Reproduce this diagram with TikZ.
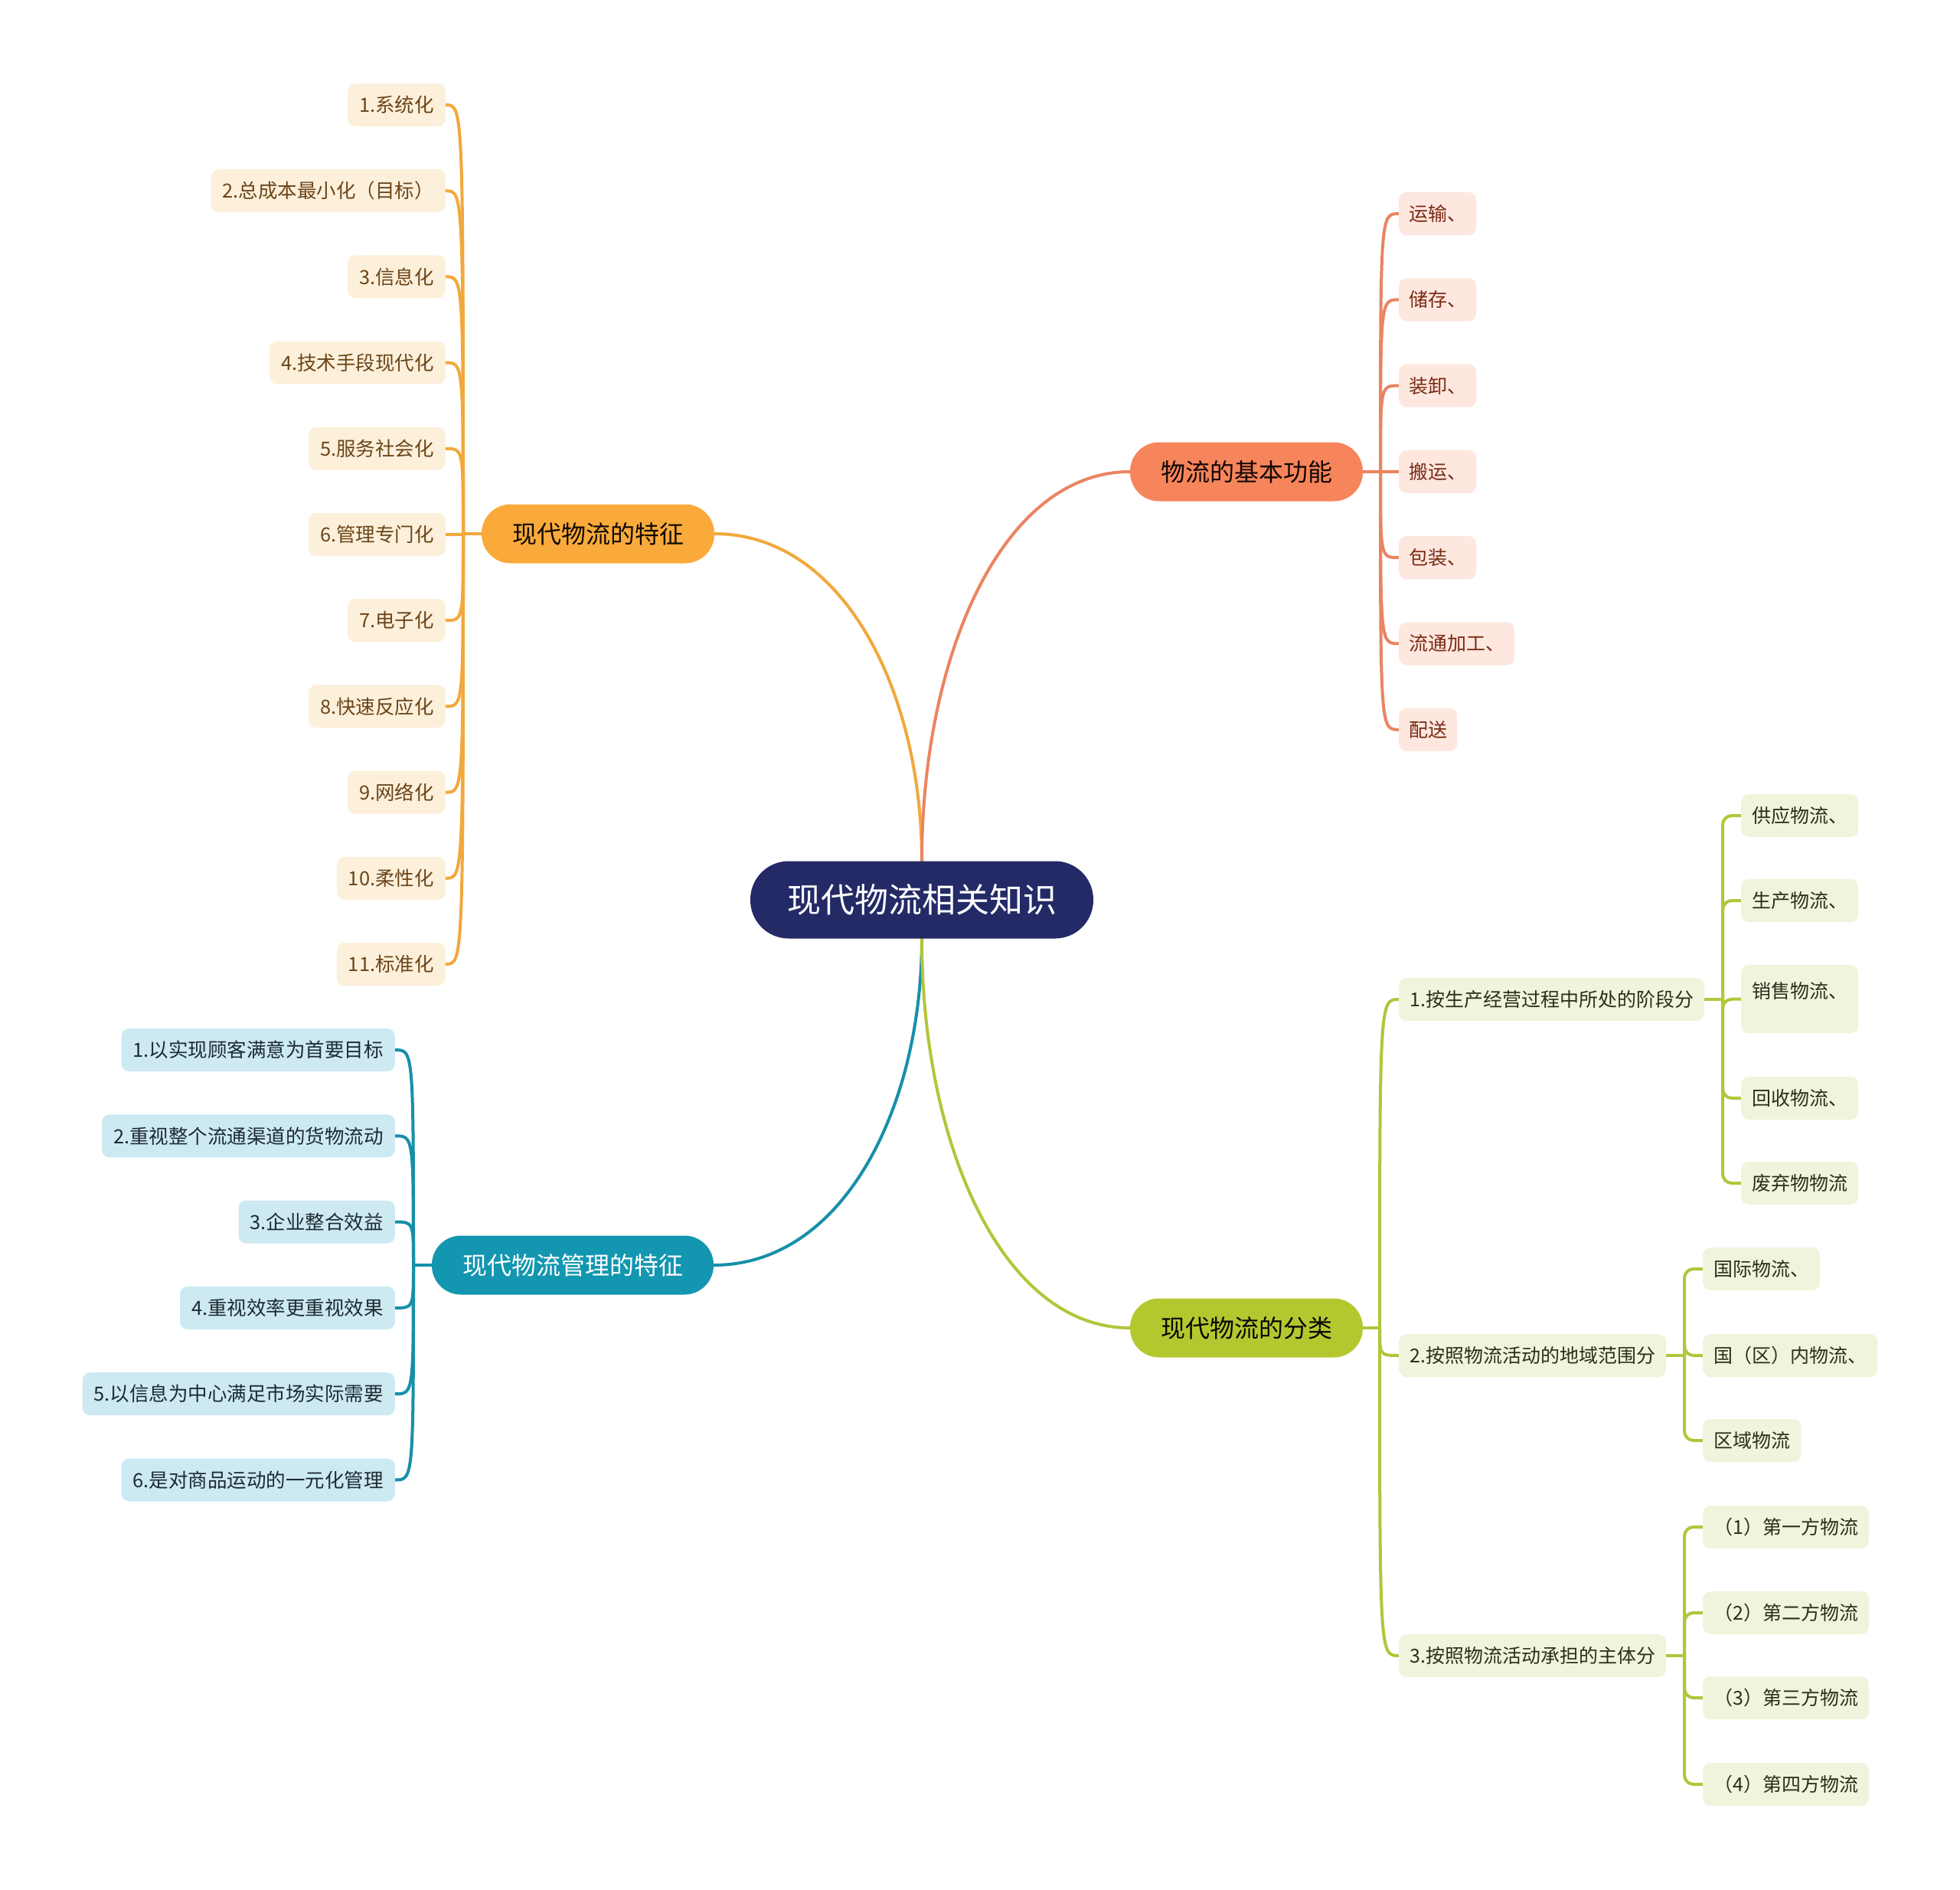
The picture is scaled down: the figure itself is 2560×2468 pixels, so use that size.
\documentclass[tikz,border=0pt]{standalone}
\usepackage{fontspec}
\setmainfont{Noto Sans CJK SC}
\usetikzlibrary{backgrounds}
\definecolor{cRoot}{HTML}{232A66}
\definecolor{cOr}{HTML}{F9AA3B}
\definecolor{cOrLine}{HTML}{F2A83C}
\definecolor{cOrLeaf}{HTML}{FDF0DB}
\definecolor{cOrText}{HTML}{6B4519}
\definecolor{cCo}{HTML}{F7855B}
\definecolor{cCoLine}{HTML}{EB8461}
\definecolor{cCoLeaf}{HTML}{FDE7DF}
\definecolor{cCoText}{HTML}{7A2B13}
\definecolor{cBl}{HTML}{1396B0}
\definecolor{cBlLine}{HTML}{1690A9}
\definecolor{cBlLeaf}{HTML}{CDEAF2}
\definecolor{cBlText}{HTML}{1D2B33}
\definecolor{cGr}{HTML}{B5C72F}
\definecolor{cGrLine}{HTML}{B3C53A}
\definecolor{cGrLeaf}{HTML}{F1F4DC}
\definecolor{cGrText}{HTML}{2B2E1A}
\begin{document}
\begin{tikzpicture}[x=1pt,y=-1pt,
 rootnode/.style={rectangle,rounded corners=50pt,fill=cRoot,text=white,font=\fontsize{44}{52}\selectfont,minimum width=448pt,minimum height=101pt,inner sep=0pt},
 branch/.style={rectangle,rounded corners=38pt,minimum height=77pt,inner xsep=40pt,inner ysep=0pt,font=\fontsize{32}{38}\selectfont},
 leaf/.style={rectangle,rounded corners=10pt,minimum height=56pt,inner xsep=14pt,inner ysep=0pt},
 oleaf/.style={leaf,inner xsep=15pt,fill=cOrLeaf,text=cOrText,font=\fontsize{25.5}{32}\selectfont},
 cleaf/.style={leaf,inner xsep=13pt,fill=cCoLeaf,text=cCoText,font=\fontsize{25}{32}\selectfont},
 bleaf/.style={leaf,inner xsep=15pt,fill=cBlLeaf,text=cBlText,font=\fontsize{25.5}{32}\selectfont},
 gleaf/.style={leaf,fill=cGrLeaf,text=cGrText,font=\fontsize{25}{32}\selectfont},
 link/.style={line width=4pt,line cap=round}
]
\useasboundingbox (0,0) rectangle (2560,2468);

% root and branches
\node[rootnode] (root) at (1204,1175) {现代物流相关知识};
\node[branch,fill=cOr,text=black!85!cOrText] (b1) at (781,697) {现代物流的特征};
\node[branch,fill=cCo,text=black!85!cCoText] (b2) at (1628,616) {物流的基本功能};
\node[branch,fill=cBl,text=white] (b3) at (748,1652) {现代物流管理的特征};
\node[branch,fill=cGr,text=black!85!cGrText] (b4) at (1628,1734) {现代物流的分类};

% junctions
\coordinate (j1) at (605,697);
\coordinate (j2) at (1803,616);
\coordinate (j3) at (540,1652);
\coordinate (j4) at (1802,1734);
\coordinate (j5) at (2250,1305);
\coordinate (j6) at (2200,1770);
\coordinate (j7) at (2200,2162);

% orange leaves
\foreach \t [count=\i from 0] in {1.系统化,2.总成本最小化（目标）,3.信息化,4.技术手段现代化,5.服务社会化,6.管理专门化,7.电子化,8.快速反应化,9.网络化,10.柔性化,11.标准化}
  \node[oleaf,anchor=east] (o\i) at (582,137+112.2*\i) {\t};

% coral leaves
\foreach \t [count=\i from 0] in {运输、,储存、,装卸、,搬运、,包装、,流通加工、,配送}
  \node[cleaf,anchor=west] (c\i) at (1827,279+112.3*\i) {\t};

% blue leaves
\foreach \t [count=\i from 0] in {1.以实现顾客满意为首要目标,2.重视整个流通渠道的货物流动,3.企业整合效益,4.重视效率更重视效果,5.以信息为中心满足市场实际需要,6.是对商品运动的一元化管理}
  \node[bleaf,anchor=east] (l\i) at (516,1371+112.3*\i) {\t};

% green level 2
\node[gleaf,anchor=west] (g1) at (1827,1305) {1.按生产经营过程中所处的阶段分};
\node[gleaf,anchor=west] (g2) at (1827,1770) {2.按照物流活动的地域范围分};
\node[gleaf,anchor=west] (g3) at (1827,2162) {3.按照物流活动承担的主体分};

% green level 3
\node[gleaf,anchor=west] (ga0) at (2274,1065) {供应物流、};
\node[gleaf,anchor=west] (ga1) at (2274,1176) {生产物流、};
\node[gleaf,anchor=north west,minimum height=0pt,text height=43pt,text depth=46pt] (ga2) at (2274,1260) {销售物流、};
\node[gleaf,anchor=west] (ga3) at (2274,1434) {回收物流、};
\node[gleaf,anchor=west] (ga4) at (2274,1545) {废弃物物流};

\node[gleaf,anchor=west] (gb0) at (2224,1657) {国际物流、};
\node[gleaf,anchor=west] (gb1) at (2224,1770) {国（区）内物流、};
\node[gleaf,anchor=west] (gb2) at (2224,1881) {区域物流};

\node[gleaf,anchor=west] (gc0) at (2224,1994) {（1）第一方物流};
\node[gleaf,anchor=west] (gc1) at (2224,2106) {（2）第二方物流};
\node[gleaf,anchor=west] (gc2) at (2224,2217) {（3）第三方物流};
\node[gleaf,anchor=west] (gc3) at (2224,2330) {（4）第四方物流};

\begin{scope}[on background layer]
\fill[white] (0,0) rectangle (2560,2468);
% main curves
\draw[link,cOrLine] (root.north) .. controls (1204,902) and (1101,697) .. (b1.east);
\draw[link,cCoLine] (root.north) .. controls (1204,860) and (1307,616) .. (b2.west);
\draw[link,cBlLine] (root.south) .. controls (1204,1447) and (1101,1652) .. (b3.east);
\draw[link,cGrLine] (root.south) .. controls (1204,1490) and (1307,1734) .. (b4.west);

% orange
\draw[link,cOrLine] (b1.west) -- (j1);
\foreach \i in {0,...,10}
  \draw[link,cOrLine] (j1) .. controls (j1 |- o\i.east) .. (o\i.east);
% coral
\draw[link,cCoLine] (b2.east) -- (j2);
\foreach \i in {0,...,6}
  \draw[link,cCoLine] (j2) .. controls (j2 |- c\i.west) .. (c\i.west);
% blue
\draw[link,cBlLine] (b3.west) -- (j3);
\foreach \i in {0,...,5}
  \draw[link,cBlLine] (j3) .. controls (j3 |- l\i.east) .. (l\i.east);
% green
\draw[link,cGrLine] (b4.east) -- (j4);
\foreach \n in {g1,g2,g3}
  \draw[link,cGrLine] (j4) .. controls (j4 |- \n.west) .. (\n.west);
\draw[link,cGrLine] (g1.east) -- (j5);
\draw[link,cGrLine] (g2.east) -- (j6);
\draw[link,cGrLine] (g3.east) -- (j7);
\foreach \n in {ga0,ga1,ga2,ga3,ga4}
  \draw[link,cGrLine,rounded corners=12pt] (j5) |- (\n.west);
\foreach \n in {gb0,gb1,gb2}
  \draw[link,cGrLine,rounded corners=12pt] (j6) |- (\n.west);
\foreach \n in {gc0,gc1,gc2,gc3}
  \draw[link,cGrLine,rounded corners=12pt] (j7) |- (\n.west);
\end{scope}
\end{tikzpicture}
\end{document}
